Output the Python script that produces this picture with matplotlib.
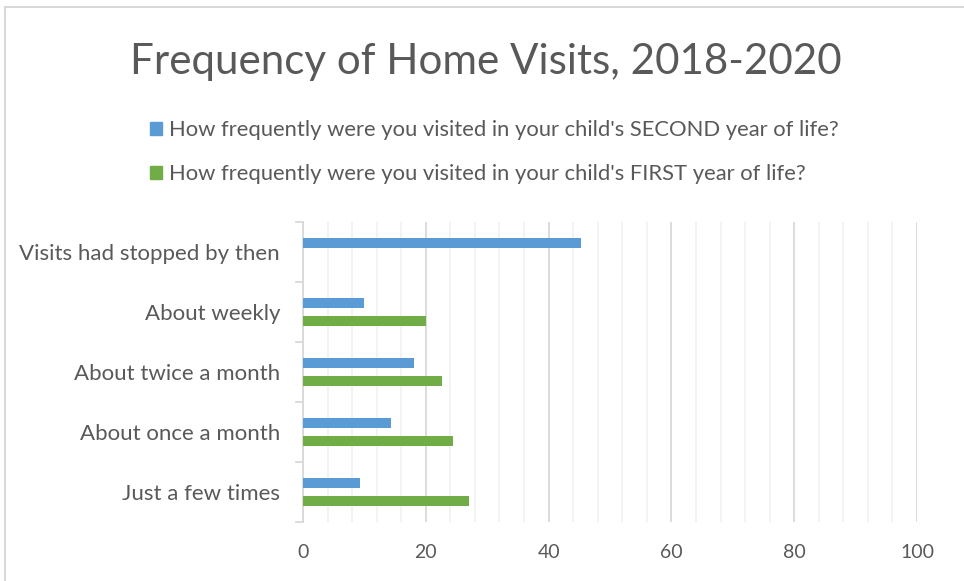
import matplotlib.pyplot as plt
import numpy as np
from matplotlib.lines import Line2D
from matplotlib.patches import Patch

categories = ["Just a few times", "About once a month", "About twice a month",
              "About weekly", "Visits had stopped by then"]
second_year = [9.3, 14.3, 18.1, 10.0, 45.2]
first_year = [27.0, 24.5, 22.7, 20.0, 0]
label_second = "How frequently were you visited in your child's SECOND year of life?"
label_first = "How frequently were you visited in your child's FIRST year of life?"
title = "Frequency of Home Visits, 2018-2020"

blue = "#5B9BD5"
green = "#70AD47"
txt = "#595959"

plt.rcParams['font.family'] = ['Lato', 'DejaVu Sans']

fig = plt.figure(figsize=(9.64, 5.81), dpi=100)
W, H = 964, 581
ax = fig.add_axes([303 / W, 1 - 522 / H, 614 / W, 300 / H])

y = np.arange(len(categories))
h = 0.183
ax.barh(y + 0.15, second_year, height=h, color=blue, zorder=3)
ax.barh(y[:4] - 0.15, first_year[:4], height=h, color=green, zorder=3)

ax.set_xlim(0, 100)
ax.set_ylim(-0.5, len(categories) - 0.5)
ax.set_xticks(np.arange(0, 101, 20))
ax.set_xticks(np.arange(0, 101, 4), minor=True)
ax.grid(axis='x', which='major', color='#D9D9D9', linewidth=1.3, zorder=1)
ax.grid(axis='x', which='minor', color='#F2F2F2', linewidth=1.3, zorder=0)
ax.tick_params(axis='x', which='both', length=0, labelsize=14, labelcolor=txt, pad=16)

ax.set_yticks(y)
ax.set_yticklabels(categories)
ax.set_yticks(np.arange(-0.5, len(categories), 1), minor=True)
ax.tick_params(axis='y', which='major', length=0, labelsize=16, labelcolor=txt, pad=16.5)
ax.tick_params(axis='y', which='minor', length=6, color='#D9D9D9', width=1.3)

for s in ['top', 'right', 'bottom']:
    ax.spines[s].set_visible(False)
ax.spines['left'].set_color('#D9D9D9')
ax.spines['left'].set_linewidth(1.3)

fig.text(486 / W, 1 - 62 / H, title, ha='center', va='center', fontsize=30.3, color=txt)

handles = [Patch(color=blue, label=label_second), Patch(color=green, label=label_first)]
fig.legend(handles=handles, loc='upper left', bbox_to_anchor=(150 / W, 1 - 120 / H),
           frameon=False, fontsize=15.8, labelcolor=txt, handlelength=0.55, handleheight=0.55,
           handletextpad=0.3, labelspacing=1.1, borderaxespad=0, borderpad=0)

# chart border (left and top visible)
fig.add_artist(Line2D([5 / W, 5 / W], [0, 1 - 7 / H], color='#D9D9D9', linewidth=1.5))
fig.add_artist(Line2D([5 / W, 1], [1 - 7 / H, 1 - 7 / H], color='#D9D9D9', linewidth=1.5))

fig.savefig('out.png', dpi=100)
